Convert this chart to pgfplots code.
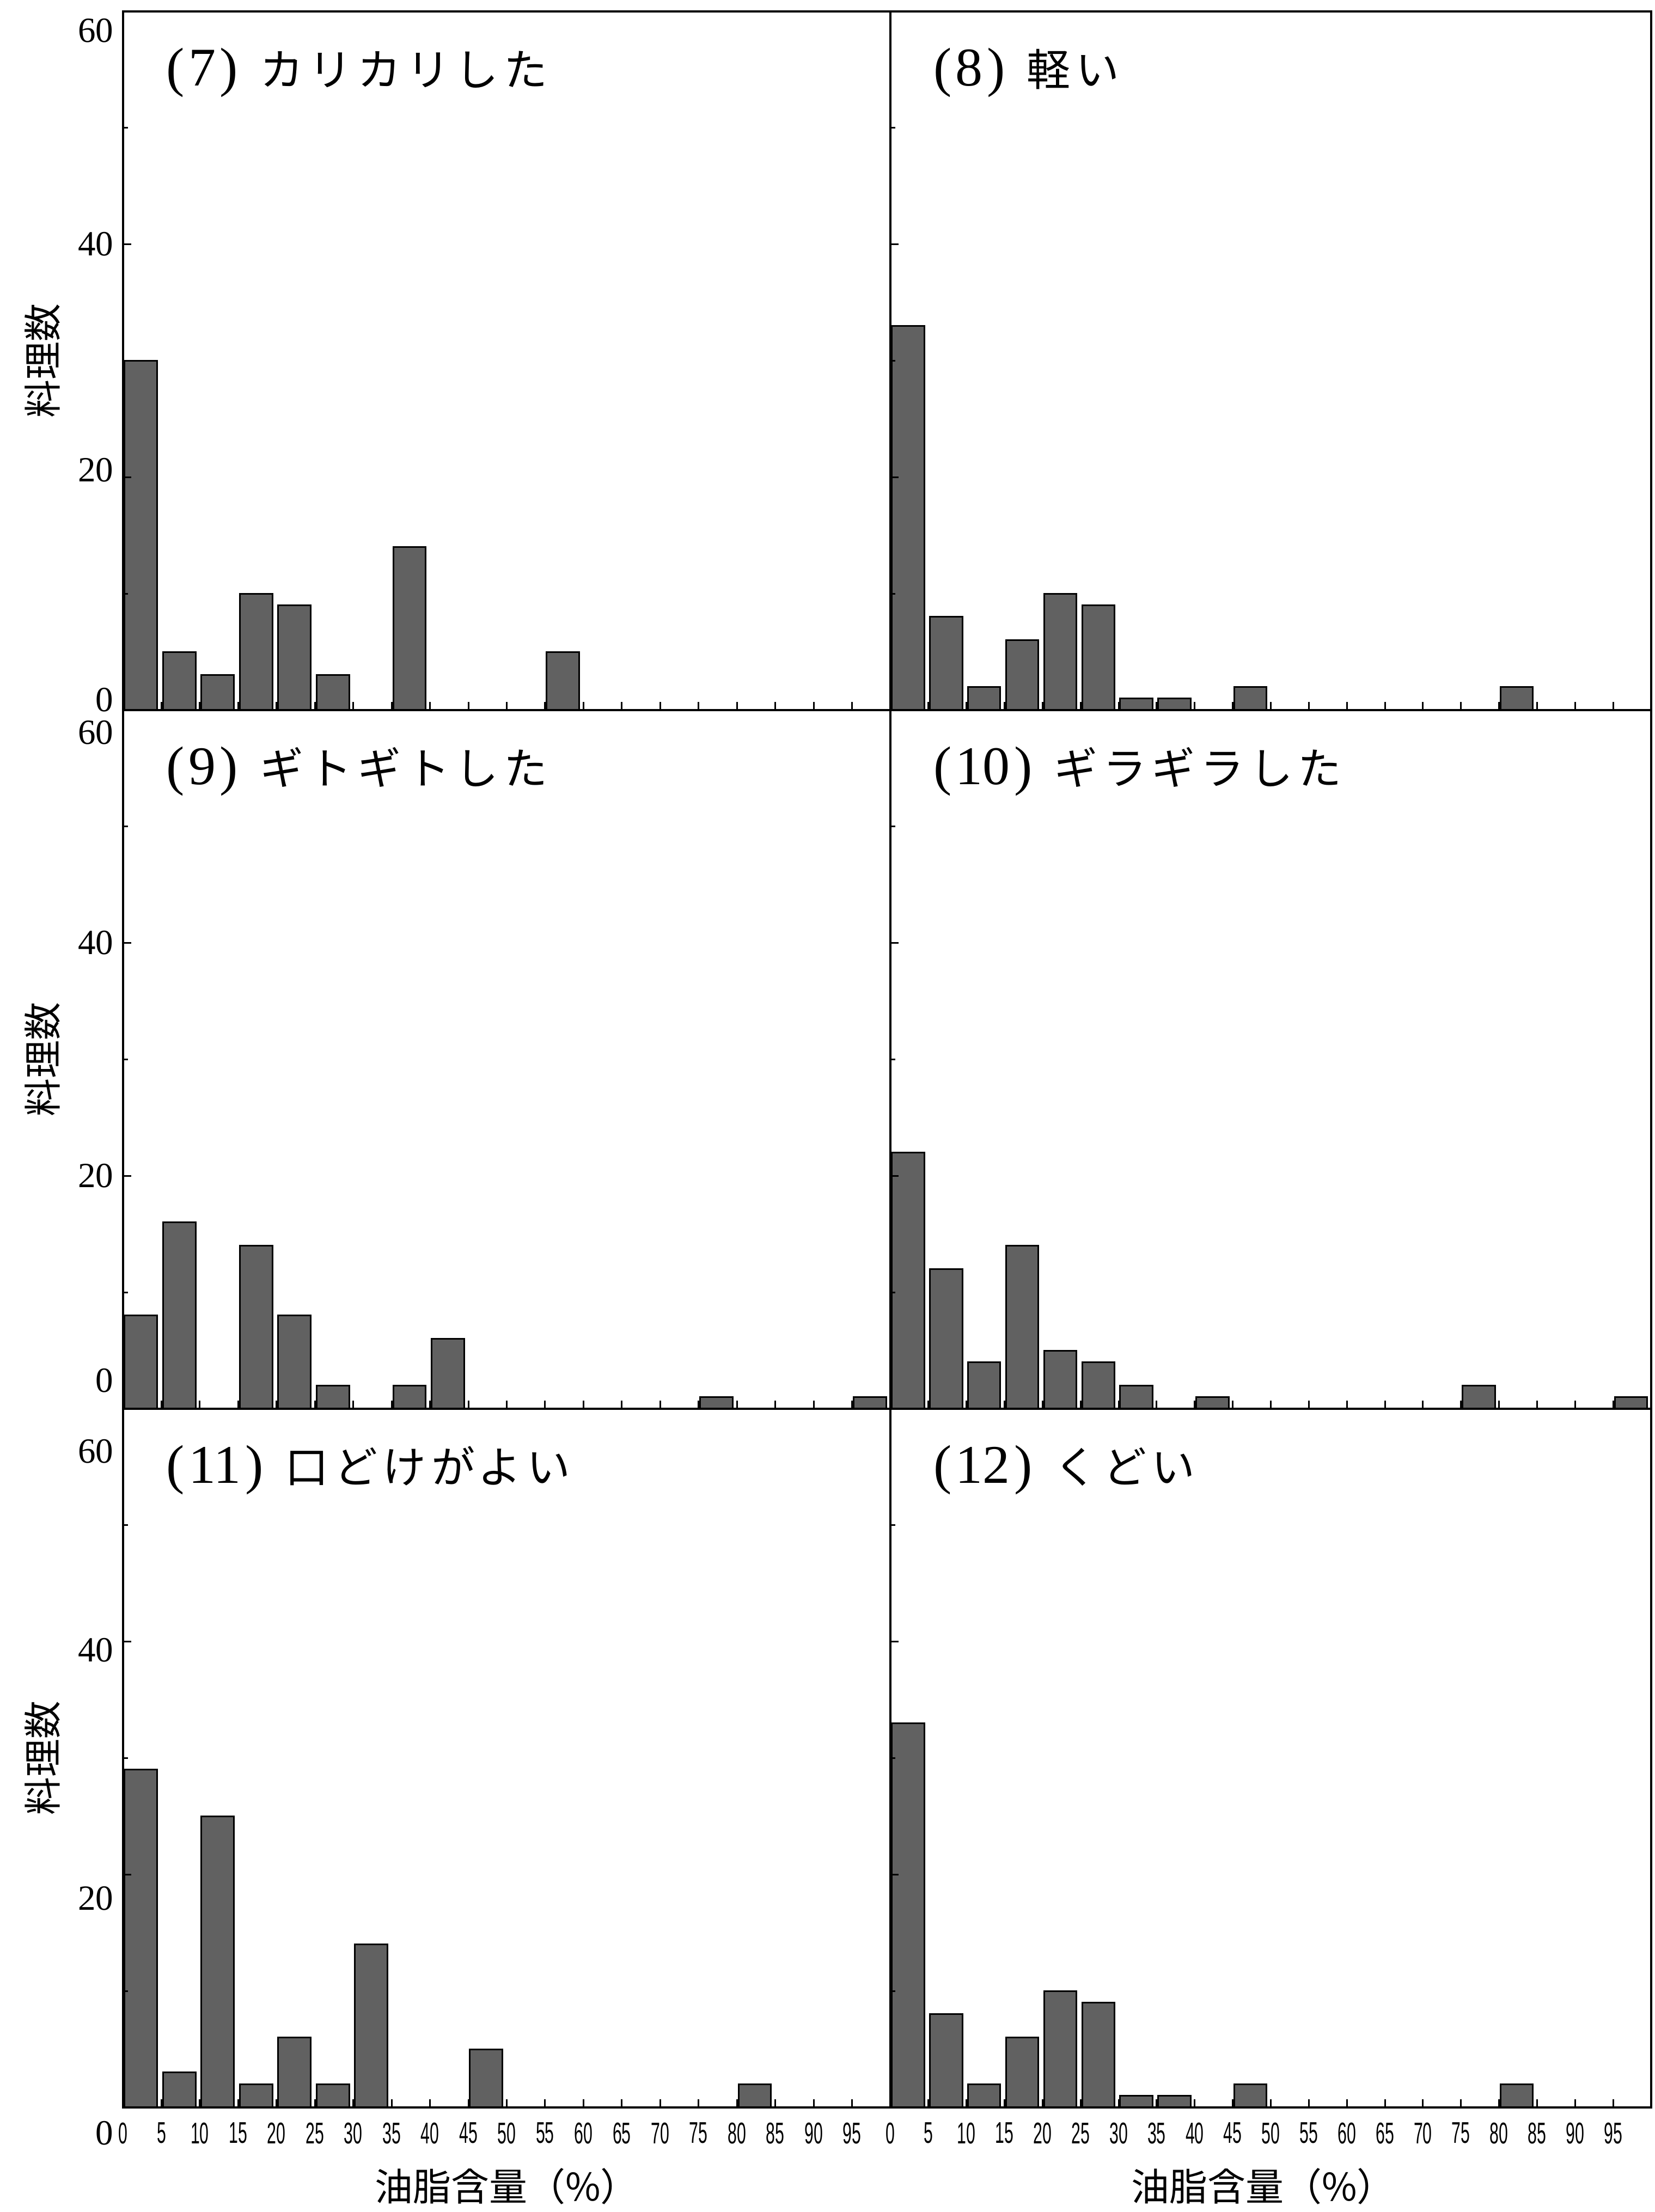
\documentclass[border=0pt]{standalone}
\usepackage{fontspec}
\setmainfont{Liberation Serif}
\newfontfamily\cjk{Noto Sans CJK JP}
\newfontfamily\cjkt{Noto Sans CJK JP}[LetterSpace=12]
\newfontfamily\tickfont{Liberation Sans}
\usepackage{pgfplots}
\pgfplotsset{compat=1.18}

\newcommand\ttl[2]{{\fontsize{20}{22}\selectfont(\kern1.5pt#1\kern1.5pt)}\hspace{8pt}{\cjkt\fontsize{16}{19}\selectfont #2}}
\newcommand\ytl[2]{\smash{\raisebox{#1}{#2}}}

\pgfplotsset{
  panel/.style={
    scale only axis, height=256.6pt, anchor=north west,
    xmin=0, xmax=100, ymin=0, ymax=60,
    ybar, bar width=4.25, bar shift=2.33,
    xtick={0,5,...,95}, ytick={0,20,40,60}, minor ytick={10,30,50},
    tick pos=left, tick align=inside,
    major tick length=3pt, minor tick length=1.8pt,
    axis line style={line width=0.8pt},
    every tick/.style={black, line width=0.6pt},
    axis on top,
    xticklabels={}, yticklabels={},
    yticklabel style={font=\fontsize{13}{14}\selectfont},
    xticklabel style={font=\tickfont\fontsize{11}{12}\selectfont, xscale=0.55, yshift=-2pt},
    ylabel style={at={(axis description cs:-0.105,0.5)}, anchor=center},
    xlabel style={at={(axis description cs:0.5,-0.113)}, anchor=center},
  },
  leftp/.style={panel, width=281.8pt},
  rightp/.style={panel, width=279.4pt},
  ylab/.style={ylabel={\cjk\fontsize{14}{16}\selectfont 料理数}},
  xlab/.style={xlabel={\cjk\fontsize{14}{16}\selectfont 油脂含量（\%）},
    xticklabels={0,5,10,15,20,25,30,35,40,45,50,55,60,65,70,75,80,85,90,95}},
  bars/.style={draw=black, line width=0.6pt, fill=black!62},
}

\begin{document}
\begin{tikzpicture}
\path[use as bounding box] (0pt,0pt) rectangle (607.6pt,-812.4pt);

% (7)
\begin{axis}[leftp, ylab, at={(45.2pt,-4.2pt)},
  yticklabels={\ytl{-0.6pt}{0},\ytl{-1.6pt}{20},40,\ytl{-11.4pt}{60}}]
\addplot[bars] coordinates {(0,30)(5,5)(10,3)(15,10)(20,9)(25,3)(35,14)(55,5)};
\node[anchor=west] at (rel axis cs:0.044,0.912) {\ttl{7}{カリカリした}};
\end{axis}

% (8)
\begin{axis}[rightp, at={(327pt,-4.2pt)}]
\addplot[bars] coordinates {(0,33)(5,8)(10,2)(15,6)(20,10)(25,9)(30,1)(35,1)(45,2)(80,2)};
\node[anchor=west] at (rel axis cs:0.044,0.912) {\ttl{8}{軽い}};
\end{axis}

% (9)
\begin{axis}[leftp, ylab, at={(45.2pt,-260.8pt)},
  yticklabels={\ytl{6.1pt}{0},20,40,\ytl{-12.5pt}{60}}]
\addplot[bars] coordinates {(0,8)(5,16)(15,14)(20,8)(25,2)(35,2)(40,6)(75,1)(95,1)};
\node[anchor=west] at (rel axis cs:0.044,0.912) {\ttl{9}{ギトギトした}};
\end{axis}

% (10)
\begin{axis}[rightp, at={(327pt,-260.8pt)}]
\addplot[bars] coordinates {(0,22)(5,12)(10,4)(15,14)(20,5)(25,4)(30,2)(40,1)(75,2)(95,1)};
\node[anchor=west] at (rel axis cs:0.044,0.912) {\ttl{10}{ギラギラした}};
\end{axis}

% (11)
\begin{axis}[leftp, ylab, xlab, at={(45.2pt,-517.4pt)},
  yticklabels={\ytl{-13.6pt}{0},\ytl{-13.1pt}{20},\ytl{-7.4pt}{40},\ytl{-19.8pt}{60}}]
\addplot[bars] coordinates {(0,29)(5,3)(10,25)(15,2)(20,6)(25,2)(30,14)(45,5)(80,2)};
\node[anchor=west] at (rel axis cs:0.044,0.912) {\ttl{11}{口どけがよい}};
\end{axis}

% (12)
\begin{axis}[rightp, xlab, at={(327pt,-517.4pt)},
  xlabel style={at={(axis description cs:0.49,-0.113)}}]
\addplot[bars] coordinates {(0,33)(5,8)(10,2)(15,6)(20,10)(25,9)(30,1)(35,1)(45,2)(80,2)};
\node[anchor=west] at (rel axis cs:0.044,0.912) {\ttl{12}{くどい}};
\end{axis}

\end{tikzpicture}
\end{document}
